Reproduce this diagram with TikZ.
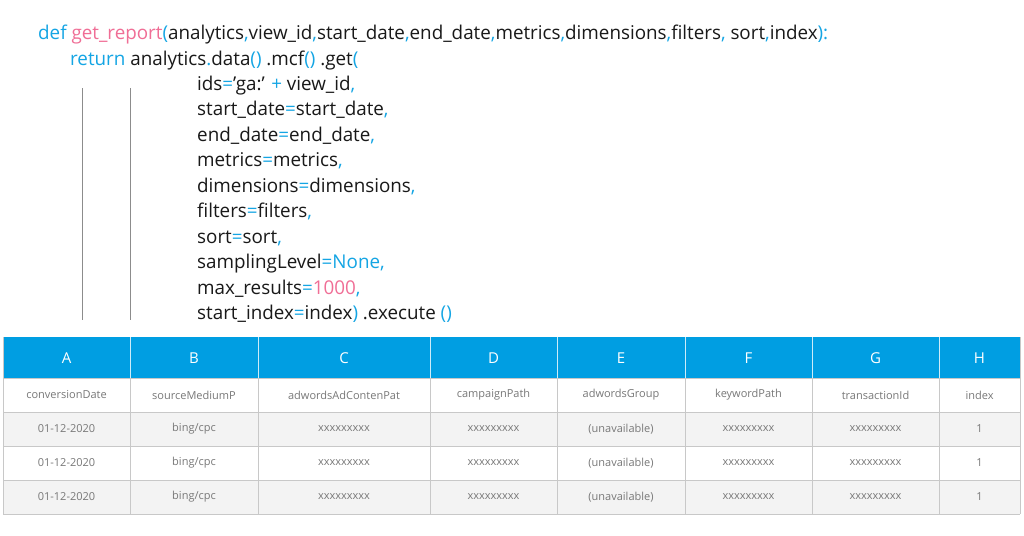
\documentclass[tikz,border=0pt]{standalone}
\usepackage{fontspec}
\setmainfont{Open Sans}
\definecolor{cblue}{RGB}{20,165,228}
\definecolor{cpink}{RGB}{240,110,150}
\definecolor{hblue}{RGB}{0,158,226}
\definecolor{tgrey}{RGB}{120,120,120}
\definecolor{rowg}{RGB}{243,243,243}
\definecolor{lineg}{RGB}{200,200,200}
\newcommand\cb[1]{\textcolor{cblue}{#1}}
\newcommand\cpk[1]{\textcolor{cpink}{#1}}
\tikzset{code/.style={anchor=base west,inner sep=0pt,font=\fontsize{19}{22}\selectfont,text=black!90,xscale=0.99},
cell/.style={text=tgrey,font=\fontsize{11}{13}\selectfont},
hcell/.style={text=white,font=\fontsize{15}{17}\selectfont}}
\begin{document}
\begin{tikzpicture}[x=1pt,y=-1pt]
\useasboundingbox (0,0) rectangle (1024,535);
\fill[white] (0,0) rectangle (1024,535);
\node[code] (l1) at (38,40) {\cb{def} \cpk{get\_report}\cb{(}analytics\cb{,}view\_id\cb{,}start\_date\cb{,}end\_date\cb{,}metrics\cb{,}dimensions\cb{,}filters\cb{,} sort\cb{,}index\cb{):}};
\node[code] (l2) at (70,65) {\cb{return} analytics\cb{.}data\cb{()} .mcf\cb{()} .get\cb{(}};
\node[code] (l3) at (197,90) {ids\cb{=}'ga:' \cb{+} view\_id\cb{,}};
\node[code] (l4) at (197,115.5) {start\_date\cb{=}start\_date\cb{,}};
\node[code] (l5) at (197,141) {end\_date\cb{=}end\_date\cb{,}};
\node[code] (l6) at (197,166.5) {metrics\cb{=}metrics\cb{,}};
\node[code] (l7) at (197,192) {dimensions\cb{=}dimensions\cb{,}};
\node[code] (l8) at (197,217.5) {filters\cb{=}filters\cb{,}};
\node[code] (l9) at (197,243) {sort\cb{=}sort\cb{,}};
\node[code] (l10) at (197,268.5) {samplingLevel\cb{=None,}};
\node[code] (l11) at (197,294) {max\_results\cb{=}\cpk{1000}\cb{,}};
\node[code] (l12) at (197,319.5) {start\_index\cb{=}index\cb{)} .execute \cb{()}};
\coordinate (g1t) at (82,88); \coordinate (g1b) at (82,320);
\coordinate (g2t) at (130,88); \coordinate (g2b) at (130,320);
\draw[black!45,line width=0.8pt] (g1t) -- (g1b) (g2t) -- (g2b);
% table
\fill[hblue] (3,337) rectangle (1020,378);
\fill[rowg] (3,412) rectangle (1020,446);
\fill[rowg] (3,480) rectangle (1020,514);
\foreach \y in {378,412,446,480,514} \draw[lineg] (3,\y) -- (1020,\y);
\draw[lineg] (3,337) -- (3,514) (1020,337) -- (1020,514);
\foreach \x in {130,258,430,557,685,812,939} {\draw[white!80!hblue] (\x,337) -- (\x,378); \draw[lineg] (\x,378) -- (\x,514);}
\def\cols{66.5/A/conversionDate/01-12-2020, 194/B/sourceMediumP/{bing/cpc}, 344/C/adwordsAdContenPat/xxxxxxxxx, 493.5/D/campaignPath/xxxxxxxxx, 621/E/adwordsGroup/(unavailable), 748.5/F/keywordPath/xxxxxxxxx, 875.5/G/transactionId/xxxxxxxxx, 979.5/H/index/1}
\foreach \cx/\h/\n/\v [count=\i] in \cols {
 \node[hcell] (h\i) at (\cx,358) {\h};
 \node[cell] (n\i) at (\cx,395) {\n};
 \foreach \r/\yy in {1/429,2/463,3/497} \node[cell] (v\i\r) at (\cx,\yy) {\v};
}
\end{tikzpicture}
\end{document}
